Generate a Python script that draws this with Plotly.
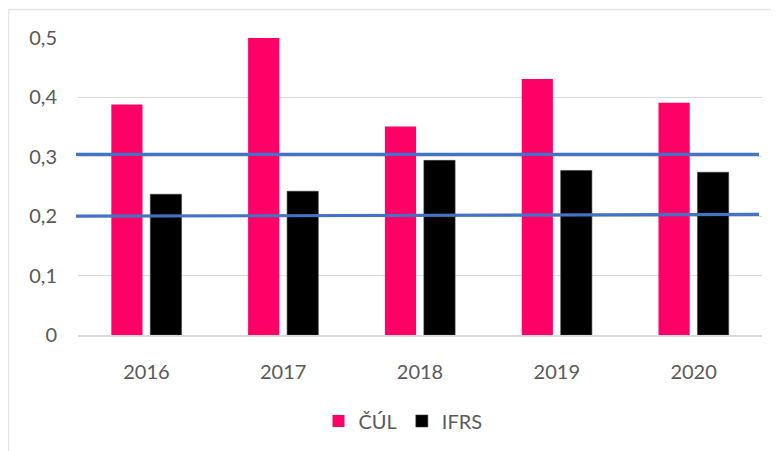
import plotly.graph_objects as go

years = ["2016", "2017", "2018", "2019", "2020"]
cul = [0.388, 0.500, 0.351, 0.431, 0.391]
ifrs = [0.237, 0.242, 0.294, 0.277, 0.274]
series_names = ["ČÚL", "IFRS"]
# horizontal reference lines: (value at left edge, value at right edge)
ref_upper = [0.304, 0.304]
ref_lower = [0.200, 0.203]

OFF = 8  # browser body margin
W, H = 779 - OFF, 451 - OFF
L, R, T, B = 78 - OFF, 17, 38 - OFF, 115
pw, ph = W - L - R, H - T - B

def px_x(p):
    return (p - OFF - L) / pw

def px_y(p):
    return (H - B - (p - OFF)) / ph

fig = go.Figure()
fig.add_trace(go.Bar(x=years, y=cul, name=series_names[0],
                     marker=dict(color="#FF0066", line=dict(width=0))))
fig.add_trace(go.Bar(x=years, y=ifrs, name=series_names[1],
                     marker=dict(color="#000000", line=dict(color="#3a3a3a", width=0.6))))

shapes = []
for ln in (ref_upper, ref_lower):
    shapes.append(dict(type="line", xref="paper", yref="y",
                       x0=px_x(76), x1=px_x(759), y0=ln[0], y1=ln[1],
                       line=dict(color="#4472C4", width=3.2), layer="above"))
# outer chart border (top and left visible)
shapes.append(dict(type="line", xref="paper", yref="paper",
                   x0=px_x(8.5), x1=px_x(790), y0=px_y(9.5), y1=px_y(9.5),
                   line=dict(color="#E3E3E3", width=1.5)))
shapes.append(dict(type="line", xref="paper", yref="paper",
                   x0=px_x(8.5), x1=px_x(8.5), y0=px_y(9.5), y1=px_y(470),
                   line=dict(color="#E3E3E3", width=1.5)))

font_family = "Lato, 'Open Sans', sans-serif"
fig.update_layout(
    width=W, height=H,
    margin=dict(l=L, r=R, t=T, b=B, pad=0),
    paper_bgcolor="white", plot_bgcolor="white",
    separators=", ",
    barmode="group", bargap=0.43, bargroupgap=0.2,
    font=dict(family=font_family, size=20, color="#595959"),
    shapes=shapes,
    legend=dict(orientation="h", x=px_x(403), xanchor="center",
                y=px_y(421), yanchor="middle",
                font=dict(size=20, color="#595959"),
                itemwidth=30, traceorder="normal"),
    showlegend=True,
)
fig.update_yaxes(range=[0, 0.5], dtick=0.1, showgrid=True, gridcolor="#D9D9D9",
                 gridwidth=1.2, zeroline=False, showline=False, automargin=False,
                 ticks="", ticklabelstandoff=20,
                 tickfont=dict(size=20, color="#595959"))
fig.update_xaxes(showgrid=False, showline=True, linecolor="#D9D9D9", linewidth=1.5,
                 automargin=False, ticks="", ticklabelstandoff=18,
                 tickfont=dict(size=20, color="#595959"))

fig.write_html("out.html")
